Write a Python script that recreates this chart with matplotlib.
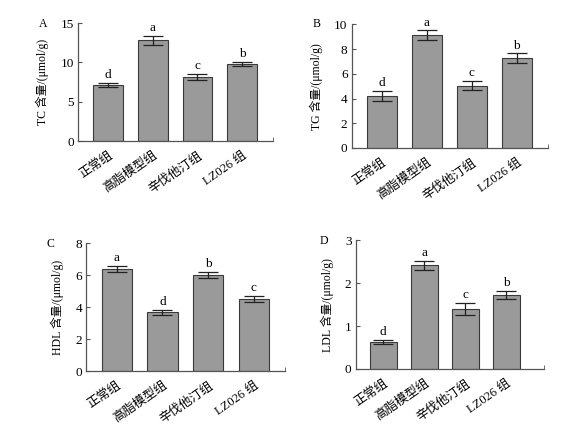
import numpy as np
import matplotlib.pyplot as plt
from matplotlib.ticker import FixedLocator

plt.rcParams['font.family'] = ['Liberation Serif', 'Noto Sans CJK SC']

groups = ['正常组', '高脂模型组', '辛伐他汀组', 'LZ026 组']

tc_mean = [7.1, 12.8, 8.15, 9.8]
tc_err = [0.25, 0.6, 0.38, 0.3]
tc_sig = ['d', 'a', 'c', 'b']

tg_mean = [4.18, 9.13, 5.05, 7.25]
tg_err = [0.42, 0.38, 0.4, 0.4]
tg_sig = ['d', 'a', 'c', 'b']

hdl_mean = [6.37, 3.66, 5.99, 4.51]
hdl_err = [0.17, 0.16, 0.2, 0.17]
hdl_sig = ['a', 'd', 'b', 'c']

ldl_mean = [0.63, 2.42, 1.39, 1.73]
ldl_err = [0.04, 0.11, 0.14, 0.1]
ldl_sig = ['d', 'a', 'c', 'b']

panels = [
    ('A', 'TC 含量/(μmol/g)', tc_mean, tc_err, tc_sig, 15, [0, 5, 10, 15],
     [0.137, 0.675, 0.342, 0.272], 3.69, (43, 24)),
    ('B', 'TG 含量/(μmol/g)', tg_mean, tg_err, tg_sig, 10, [0, 2, 4, 6, 8, 10],
     [0.617, 0.659, 0.344, 0.285], 3.69, (317, 24)),
    ('C', 'HDL 含量/(μmol/g)', hdl_mean, hdl_err, hdl_sig, 8, [0, 2, 4, 6, 8],
     [0.151, 0.145, 0.349, 0.295], 3.68, (50, 244)),
    ('D', 'LDL 含量/(μmol/g)', ldl_mean, ldl_err, ldl_sig, 3, [0, 1, 2, 3],
     [0.624, 0.150, 0.331, 0.296], 3.93, (324, 241)),
]

fig = plt.figure(figsize=(5.7, 4.34), dpi=100)
x = np.arange(len(groups))

for letter, ylabel, mean, err, sig, ymax, yticks, rect, xr, lpos in panels:
    ax = fig.add_axes(rect)
    ax.bar(x, mean, width=0.66, color='#9a9a9a', edgecolor='#3a3a3a', linewidth=0.8)
    ax.errorbar(x, mean, yerr=err, fmt='none', ecolor='#222222',
                elinewidth=0.9, capsize=7, capthick=0.9)
    for xi, m, e, s in zip(x, mean, err, sig):
        ax.text(xi, m + e + ymax * 0.015, s, ha='center', va='bottom', fontsize=9.5)
    ax.set_xlim(-0.67, xr)
    ax.set_ylim(0, ymax)
    ax.set_yticks(yticks)
    ax.set_xticks(x)
    ax.set_xticklabels(groups, rotation=35, ha='right', rotation_mode='anchor', fontsize=9)
    ax.xaxis.set_minor_locator(FixedLocator([xr]))
    ax.tick_params(axis='x', which='major', length=0, pad=6)
    ax.tick_params(axis='x', which='minor', direction='in', length=3, color='#555555')
    ax.tick_params(axis='y', direction='in', length=3, labelsize=9.5, color='#555555', pad=3)
    for side in ['top', 'right']:
        ax.spines[side].set_visible(False)
    for side in ['left', 'bottom']:
        ax.spines[side].set_color('#555555')
        ax.spines[side].set_linewidth(0.9)
    ax.set_ylabel(ylabel, fontsize=8.5, labelpad=8)
    fig.text(lpos[0] / 570, 1 - lpos[1] / 434, letter, ha='center', va='center', fontsize=8.5)

fig.savefig('out.png', dpi=100)
